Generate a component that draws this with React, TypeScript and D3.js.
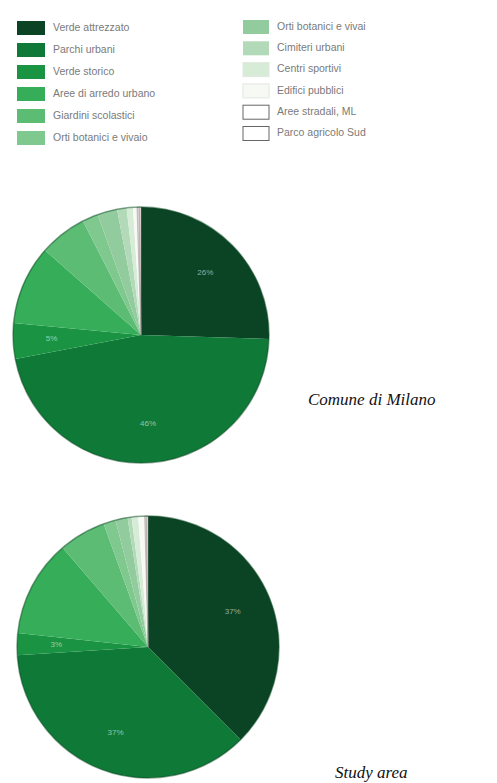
import React from "react";
import * as d3 from "d3";

const leftLabels = [
  "Verde attrezzato",
  "Parchi urbani",
  "Verde storico",
  "Aree di arredo urbano",
  "Giardini scolastici",
  "Orti botanici e vivaio",
];
const rightLabels = [
  "Orti botanici e vivai",
  "Cimiteri urbani",
  "Centri sportivi",
  "Edifici pubblici",
  "Aree stradali, ML",
  "Parco agricolo Sud",
];
const categories = [...leftLabels, ...rightLabels];
const colors = [
  "#0b4424",
  "#0f7a38",
  "#1a9442",
  "#36ad58",
  "#5cbc74",
  "#7fc98f",
  "#92cc9e",
  "#b2d9b8",
  "#d6ecd6",
  "#f6f9f4",
  "#d8d0d0",
  "#efe4e4",
];
const milanoValues = [25.5, 46.5, 4.5, 10, 6, 2, 2.5, 1.2, 0.8, 0.5, 0.3, 0.2];
const studyValues = [37.5, 36.5, 2.7, 12, 5.8, 1.5, 1.5, 0.5, 0.8, 0.8, 0.2, 0.2];
const milanoLabels = ["26%", "46%", "5%"];
const studyLabels = ["37%", "37%", "3%"];

type PieProps = { cx: number; cy: number; r: number; values: number[]; labels: string[] };

function Pie({ cx, cy, r, values, labels }: PieProps) {
  const pie = d3.pie<number>().sort(null).value((d) => d)(values);
  const arc = d3.arc<d3.PieArcDatum<number>>().innerRadius(0).outerRadius(r);
  const labelArc = d3.arc<d3.PieArcDatum<number>>().innerRadius(r * 0.7).outerRadius(r * 0.7);
  return (
    <g transform={`translate(${cx},${cy})`}>
      {pie.map((p, i) => (
        <path key={i} d={arc(p) || ""} fill={colors[i]} stroke={i >= 10 ? "#9a9090" : "none"} strokeWidth={0.5} />
      ))}
      <circle r={r} fill="none" stroke="#0a4a22" strokeOpacity={0.5} strokeWidth={1.5} />
      {labels.map((t, i) => {
        const [x, y] = labelArc.centroid(pie[i]);
        return (
          <text key={i} x={x} y={y} textAnchor="middle" dominantBaseline="middle" fontSize={8}
            fontFamily="Liberation Sans, Arial, sans-serif" fill="#ffffff" fillOpacity={0.55}>
            {t}
          </text>
        );
      })}
    </g>
  );
}

export default function App() {
  const font = "Liberation Sans, Arial, sans-serif";
  return (
    <svg width={497} height={783} style={{ position: "absolute", left: 0, top: 0, background: "#fff" }}>
      {leftLabels.map((t, i) => {
        const y = 28 + i * 22;
        return (
          <g key={t}>
            <rect x={17} y={y - 7} width={28} height={14} fill={colors[i]} />
            <text x={53} y={y} dominantBaseline="middle" fontSize={10.5} fontFamily={font} fill="#7a7a7a">
              {t}
            </text>
          </g>
        );
      })}
      {rightLabels.map((t, i) => {
        const y = 27 + i * 21.3;
        const k = i + 6;
        return (
          <g key={t}>
            <rect x={243} y={y - 7} width={26} height={14} fill={colors[k] === "#d8d0d0" || colors[k] === "#efe4e4" ? "#fff" : colors[k]}
              stroke={k >= 10 ? "#666" : k >= 8 ? "#e0e8e0" : "none"} strokeWidth={1} />
            <text x={277} y={y} dominantBaseline="middle" fontSize={10.5} fontFamily={font} fill="#7a7a7a">
              {categories[k]}
            </text>
          </g>
        );
      })}
      <Pie cx={141} cy={335} r={128} values={milanoValues} labels={milanoLabels} />
      <Pie cx={148} cy={647} r={131} values={studyValues} labels={studyLabels} />
      <text x={308} y={405} fontSize={17} fontStyle="italic" fontFamily="Liberation Serif, Times New Roman, serif" fill="#111">
        Comune di Milano
      </text>
      <text x={335} y={778} fontSize={17} fontStyle="italic" fontFamily="Liberation Serif, Times New Roman, serif" fill="#111">
        Study area
      </text>
    </svg>
  );
}
